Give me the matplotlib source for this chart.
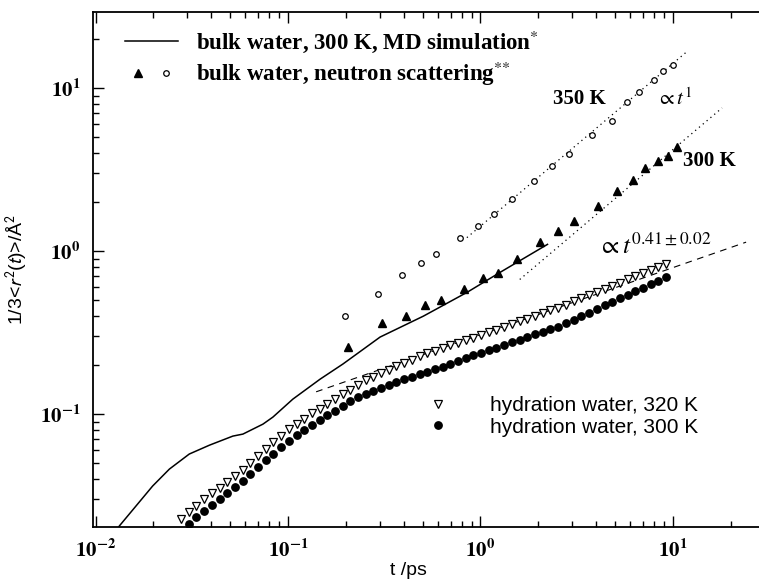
# Mean square displacement, bulk vs hydration water (log-log)
import math
import matplotlib
matplotlib.use("Agg")
import matplotlib.pyplot as plt
from matplotlib.ticker import FuncFormatter, LogLocator, NullFormatter
from matplotlib.legend_handler import HandlerTuple

plt.rcParams['mathtext.fontset'] = 'stix'
plt.rcParams['font.family'] = 'Liberation Serif'

# MD simulation, bulk water 300 K
md_t = [0.0118, 0.0133, 0.0198, 0.0242, 0.0307, 0.0391, 0.0517, 0.0583, 0.0741, 0.0835,
        0.106, 0.147, 0.193, 0.301, 0.505, 0.855, 1.27, 2.23]
md_y = [0.0165, 0.0206, 0.0362, 0.046, 0.0569, 0.0645, 0.0733, 0.0754, 0.0868, 0.0959,
        0.1236, 0.164, 0.203, 0.297, 0.399, 0.56, 0.743, 1.10]

# neutron scattering, 300 K (filled triangles)
ns300_t = [0.205, 0.308, 0.412, 0.517, 0.620, 0.826, 1.03, 1.24, 1.55, 2.03, 2.52,
           3.05, 4.06, 5.11, 6.17, 7.15, 8.32, 9.38, 10.5]
ns300_y = [0.257, 0.362, 0.401, 0.466, 0.503, 0.585, 0.683, 0.733, 0.893, 1.135, 1.33,
           1.53, 1.90, 2.33, 2.74, 3.23, 3.58, 3.85, 4.35]

# neutron scattering, 350 K (open circles)
ns350_t = [0.198, 0.293, 0.391, 0.491, 0.585, 0.787, 0.973, 1.18, 1.46, 1.90, 2.34,
           2.89, 3.82, 4.81, 5.74, 6.63, 7.93, 8.89, 9.96]
ns350_y = [0.401, 0.547, 0.713, 0.841, 0.958, 1.197, 1.418, 1.70, 2.08, 2.70, 3.34,
           3.94, 5.15, 6.25, 8.17, 9.49, 11.2, 12.7, 13.9]

# hydration water time grid
hyd_t = [0.0278, 0.0305, 0.0334, 0.0366, 0.0402, 0.0441, 0.0483, 0.0530, 0.0581, 0.0637,
         0.0698, 0.0766, 0.0839, 0.0920, 0.101, 0.111, 0.121, 0.133, 0.146, 0.160,
         0.175, 0.192, 0.211, 0.231, 0.254, 0.278, 0.305, 0.334, 0.366, 0.402,
         0.441, 0.483, 0.530, 0.581, 0.637, 0.698, 0.766, 0.839, 0.920, 1.01,
         1.11, 1.21, 1.33, 1.46, 1.60, 1.75, 1.92, 2.11, 2.31, 2.54,
         2.78, 3.05, 3.34, 3.66, 4.02, 4.41, 4.83, 5.30, 5.81, 6.37,
         6.98, 7.66, 8.39, 9.20]

# hydration water 320 K (open down triangles)
h320_y = [0.0227, 0.0250, 0.0275, 0.0302, 0.0327, 0.0354, 0.0384, 0.0417, 0.0453, 0.0498,
          0.0552, 0.0614, 0.0675, 0.0738, 0.0809, 0.0871, 0.0935, 0.101, 0.108, 0.116,
          0.124, 0.132, 0.141, 0.151, 0.161, 0.169, 0.178, 0.187, 0.197, 0.206,
          0.216, 0.226, 0.236, 0.245, 0.255, 0.265, 0.275, 0.284, 0.295, 0.306,
          0.318, 0.330, 0.343, 0.356, 0.371, 0.385, 0.400, 0.416, 0.433, 0.450,
          0.470, 0.491, 0.514, 0.537, 0.561, 0.586, 0.612, 0.641, 0.670, 0.700,
          0.731, 0.764, 0.800, 0.836]

# hydration water 300 K (filled circles), starts at second grid point
h300_y = [0.0212, 0.0233, 0.0255, 0.0277, 0.0301, 0.0327, 0.0356, 0.0389, 0.0428,
          0.0471, 0.0520, 0.0573, 0.0627, 0.0686, 0.0743, 0.0804, 0.0857, 0.0916, 0.0986,
          0.105, 0.112, 0.120, 0.127, 0.133, 0.139, 0.145, 0.151, 0.157, 0.164,
          0.170, 0.176, 0.182, 0.188, 0.195, 0.204, 0.212, 0.221, 0.230, 0.238,
          0.247, 0.256, 0.266, 0.276, 0.286, 0.297, 0.308, 0.320, 0.332, 0.344,
          0.362, 0.380, 0.400, 0.420, 0.442, 0.464, 0.488, 0.513, 0.539, 0.566,
          0.596, 0.626, 0.658, 0.692]

# power-law guides
fit1_t = [0.85, 12.0]       # ~ t^1 through 350 K
fit1_y = [1.21, 17.0]
fit2_t = [1.6, 18.0]        # ~ t^1 through 300 K
fit2_y = [0.67, 7.56]
fit041_t = [0.14, 24.0]     # ~ t^0.41
fit041_y = [0.137, 1.135]

fig = plt.figure(figsize=(7.59, 5.86), dpi=100)
ax = fig.add_axes([0.1225, 0.1007, 0.8775, 0.8788])

md_line, = ax.plot(md_t, md_y, color='black', lw=1.1)
ax.plot(fit1_t, fit1_y, color='black', lw=0.9, ls=(0, (1, 3)))
ax.plot(fit2_t, fit2_y, color='black', lw=0.9, ls=(0, (1, 3)))
ax.plot(fit041_t, fit041_y, color='black', lw=0.8, ls=(0, (6, 5)))

tri, = ax.plot(ns300_t, ns300_y, ls='none', marker='^', ms=5.2, color='black')
circ, = ax.plot(ns350_t, ns350_y, ls='none', marker='o', ms=4, mfc='white',
                mec='black', mew=0.9)
h320, = ax.plot(hyd_t, h320_y, ls='none', marker='v', ms=5.5, mfc='white',
                mec='black', mew=0.9)
h300, = ax.plot(hyd_t[1:], h300_y, ls='none', marker='o', ms=5.3, color='black')

ax.set_xscale('log')
ax.set_yscale('log')
ax.set_xlim(0.0097, 28)
ax.set_ylim(0.0203, 29.3)

ax.spines['right'].set_visible(False)
for s in ['left', 'bottom', 'top']:
    ax.spines[s].set_linewidth(1.3)

ax.tick_params(which='both', direction='in', top=True, right=False, width=1.0)
ax.tick_params(which='major', length=8)
ax.tick_params(which='minor', length=4)
ax.tick_params(axis='x', which='major', pad=9)
ax.tick_params(axis='y', which='major', pad=9)
ax.xaxis.set_minor_locator(LogLocator(base=10, subs=range(2, 10), numticks=20))
ax.yaxis.set_minor_locator(LogLocator(base=10, subs=range(2, 10), numticks=20))
ax.xaxis.set_minor_formatter(NullFormatter())
ax.yaxis.set_minor_formatter(NullFormatter())

fmt = FuncFormatter(lambda v, p: r'$\mathbf{10^{%d}}$' % round(math.log10(v)))
ax.xaxis.set_major_formatter(fmt)
ax.yaxis.set_major_formatter(fmt)
for lab in ax.get_xticklabels() + ax.get_yticklabels():
    lab.set_fontsize(15)

ax.set_xlabel('t /ps', family='Liberation Sans', fontsize=14)
ax.xaxis.set_label_coords(0.474, -0.068)
ylab = ax.set_ylabel(r'1/3<$r^{2}$($t$)>/Å$^{2}$', family='Liberation Sans', fontsize=14)
ylab.set_math_fontfamily('stixsans')
ax.yaxis.set_label_coords(-0.095, 0.5)

leg1 = ax.legend([md_line, (tri, circ)],
                 [r'bulk water, 300 K, MD simulation$^{{*}}$',
                  r'bulk water, neutron scattering$^{{*}{*}}$'],
                 handler_map={tuple: HandlerTuple(ndivide=None, pad=0.1)},
                 loc='upper left', bbox_to_anchor=(0.035, 0.985), frameon=False,
                 prop={'family': 'Liberation Serif', 'weight': 'bold', 'size': 16.5},
                 handlelength=2.3, handletextpad=0.8, labelspacing=0.2,
                 borderaxespad=0)
ax.add_artist(leg1)

ax.legend([h320, h300], ['hydration water, 320 K', 'hydration water, 300 K'],
          loc='upper left', bbox_to_anchor=(0.49, 0.27), frameon=False,
          prop={'family': 'Liberation Sans', 'size': 15},
          handlelength=1.0, handletextpad=2.0, labelspacing=0.12, borderaxespad=0)

ax.text(0.731, 0.831, '350 K', transform=ax.transAxes, ha='center', va='center',
        fontsize=15, fontweight='bold')
ax.text(0.873, 0.831, r'$\propto t^{1}$', transform=ax.transAxes, ha='center',
        va='center', fontsize=15)
ax.text(0.926, 0.710, '300 K', transform=ax.transAxes, ha='center', va='center',
        fontsize=15, fontweight='bold')
ax.text(0.758, 0.545, r'$\propto t^{0.41\pm0.02}$', transform=ax.transAxes,
        ha='left', va='center', fontsize=18)

fig.savefig('out.png', dpi=100)
